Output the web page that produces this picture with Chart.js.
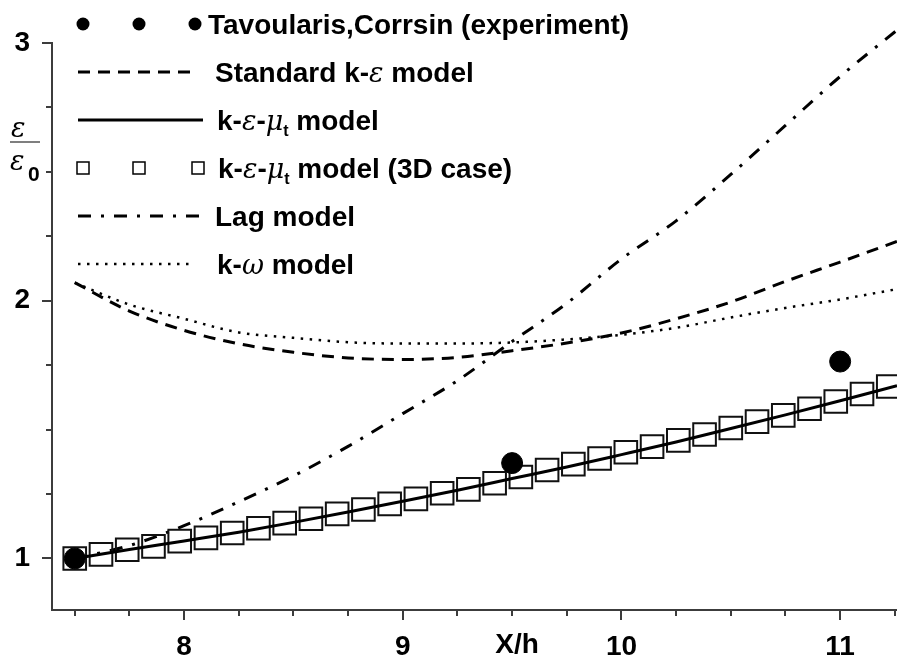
<!DOCTYPE html>
<html>
<head>
<meta charset="utf-8">
<script src="https://cdn.jsdelivr.net/npm/chart.js@4.4.0/dist/chart.umd.min.js"></script>
<style>
  html, body { margin: 0; padding: 0; background: #fff; }
  #wrap { width: 897px; height: 660px; }
</style>
</head>
<body>
<div id="wrap"><canvas id="chart" width="897" height="660"></canvas></div>
<script>
// --- data ---
const curveX = [7.5, 7.75, 8.0, 8.25, 8.5, 8.75, 9.0, 9.25, 9.5, 9.75, 10.0, 10.25, 10.5, 10.75, 11.0, 11.26];
const standardKE = [2.07, 1.96, 1.885, 1.833, 1.80, 1.778, 1.772, 1.78, 1.806, 1.836, 1.875, 1.93, 1.995, 2.075, 2.15, 2.23];
const kEpsMut = [1.0, 1.035, 1.068, 1.102, 1.14, 1.18, 1.222, 1.265, 1.31, 1.355, 1.403, 1.452, 1.504, 1.557, 1.612, 1.67];
const lagModel = [1.0, 1.05, 1.127, 1.22, 1.32, 1.435, 1.562, 1.69, 1.842, 1.99, 2.162, 2.31, 2.49, 2.68, 2.87, 3.05];
const kOmega = [2.07, 1.985, 1.93, 1.877, 1.856, 1.839, 1.834, 1.834, 1.838, 1.85, 1.868, 1.895, 1.935, 1.972, 2.005, 2.045];

const expX = [7.5, 9.5, 11.0];
const expY = [1.0, 1.37, 1.764];

const case3dX = [7.50, 7.62, 7.74, 7.86, 7.98, 8.10, 8.22, 8.34, 8.46, 8.58, 8.70, 8.82, 8.94, 9.06, 9.18, 9.30,
                 9.42, 9.54, 9.66, 9.78, 9.90, 10.02, 10.14, 10.26, 10.38, 10.50, 10.62, 10.74, 10.86, 10.98, 11.10, 11.22];
const case3dY = [1.000, 1.016, 1.034, 1.047, 1.067, 1.080, 1.099, 1.117, 1.137, 1.154, 1.173, 1.190, 1.212, 1.231, 1.253, 1.268,
                 1.292, 1.316, 1.343, 1.366, 1.388, 1.412, 1.434, 1.458, 1.481, 1.506, 1.531, 1.555, 1.581, 1.609, 1.638, 1.667];

const xLabelled = [8, 9, 10, 11];
const yLabelled = [1, 2, 3];

const INK = '#000';
const AXIS = '#3c3c3c';
const SANS = "'Liberation Sans', Arial, sans-serif";
const SERIF = "'DejaVu Serif', 'Liberation Serif', serif";

Chart.defaults.font.family = SANS;

const pts = (xs, ys) => xs.map((x, i) => ({ x: x, y: ys[i] }));

// legend text pieces: b = bold, g = italic greek, s = subscript
const legendRows = [
  { parts: [['Tavoularis,Corrsin (experiment)', 'b']], textX: 208, sampleEnd: 195 },
  { parts: [['Standard k-', 'b'], ['\u03b5', 'g'], [' model', 'b']], textX: 215, sampleEnd: 193 },
  { parts: [['k-', 'b'], ['\u03b5', 'g'], ['-', 'b'], ['\u03bc', 'g'], ['t', 's'], [' model', 'b']], textX: 217, sampleEnd: 203 },
  { parts: [['k-', 'b'], ['\u03b5', 'g'], ['-', 'b'], ['\u03bc', 'g'], ['t', 's'], [' model (3D case)', 'b']], textX: 218, sampleEnd: 198 },
  { parts: [['Lag model', 'b']], textX: 215, sampleEnd: 203 },
  { parts: [['k-', 'b'], ['\u03c9', 'g'], [' model', 'b']], textX: 217, sampleEnd: 193 }
];

function partFont(kind) {
  if (kind === 'g') return 'italic 27px ' + SERIF;
  if (kind === 's') return 'bold 16px ' + SANS;
  return 'bold 28px ' + SANS;
}

function drawRich(ctx, parts, x, baseline) {
  let cx = x;
  parts.forEach(([t, kind]) => {
    ctx.font = partFont(kind);
    const dy = kind === 's' ? 6 : 0;
    ctx.fillText(t, cx, baseline + dy);
    cx += ctx.measureText(t).width;
  });
}

const decorations = {
  id: 'decorations',
  afterDraw(chart) {
    const ctx = chart.ctx;
    const xs = chart.scales.x;
    const ys = chart.scales.y;
    ctx.save();

    // tick marks, longer on labelled values
    ctx.strokeStyle = AXIS;
    ctx.lineWidth = 2;
    xs.ticks.forEach(t => {
      const px = Math.round(xs.getPixelForValue(t.value));
      const len = xLabelled.includes(t.value) ? 10 : 6;
      ctx.beginPath();
      ctx.moveTo(px, xs.top);
      ctx.lineTo(px, xs.top + len);
      ctx.stroke();
    });
    ys.ticks.forEach(t => {
      const py = Math.round(ys.getPixelForValue(t.value));
      const len = yLabelled.includes(t.value) ? 10 : 6;
      ctx.beginPath();
      ctx.moveTo(ys.right, py);
      ctx.lineTo(ys.right - len, py);
      ctx.stroke();
    });

    // axis titles
    ctx.fillStyle = INK;
    ctx.textAlign = 'center';
    ctx.textBaseline = 'alphabetic';
    ctx.font = 'bold 28px ' + SANS;
    ctx.fillText('X/h', 517, 653);

    ctx.textAlign = 'left';
    ctx.font = 'italic 27px ' + SERIF;
    ctx.fillText('\u03b5', 11, 137);
    ctx.fillText('\u03b5', 10, 170);
    ctx.font = 'bold 21px ' + SANS;
    ctx.fillText('0', 28, 181);
    ctx.strokeStyle = '#555';
    ctx.lineWidth = 1.5;
    ctx.beginPath();
    ctx.moveTo(10, 142);
    ctx.lineTo(40, 142);
    ctx.stroke();

    // legend
    const sx = 78;
    legendRows.forEach((row, i) => {
      const ds = chart.data.datasets[i];
      const cy = 24 + i * 48;
      ctx.strokeStyle = INK;
      ctx.fillStyle = INK;
      if (ds.showLine === false) {
        const centers = [sx + 5, sx + 61, row.sampleEnd];
        centers.forEach(c => {
          ctx.beginPath();
          if (ds.pointStyle === 'rect') {
            ctx.lineWidth = 1.5;
            ctx.setLineDash([]);
            ctx.strokeRect(c - 6, cy - 6, 12, 12);
          } else {
            ctx.arc(c, cy, 6.5, 0, Math.PI * 2);
            ctx.fill();
          }
        });
      } else {
        ctx.lineWidth = ds.borderWidth;
        ctx.setLineDash(ds.borderDash || []);
        ctx.beginPath();
        ctx.moveTo(sx, cy);
        ctx.lineTo(row.sampleEnd, cy);
        ctx.stroke();
        ctx.setLineDash([]);
      }
      ctx.fillStyle = INK;
      ctx.textAlign = 'left';
      drawRich(ctx, row.parts, row.textX, cy + 10);
    });

    ctx.restore();
  }
};

const lineBase = {
  borderColor: INK,
  backgroundColor: INK,
  borderWidth: 3,
  pointRadius: 0,
  fill: false,
  cubicInterpolationMode: 'monotone'
};

new Chart(document.getElementById('chart'), {
  type: 'line',
  data: {
    datasets: [
      {
        label: 'Tavoularis,Corrsin (experiment)',
        data: pts(expX, expY),
        showLine: false,
        pointStyle: 'circle',
        pointRadius: 10.5,
        pointBackgroundColor: INK,
        pointBorderColor: INK,
        borderColor: INK
      },
      Object.assign({}, lineBase, {
        label: 'Standard k-\u03b5 model',
        data: pts(curveX, standardKE),
        borderDash: [12, 8]
      }),
      Object.assign({}, lineBase, {
        label: 'k-\u03b5-\u03bct model',
        data: pts(curveX, kEpsMut)
      }),
      {
        label: 'k-\u03b5-\u03bct model (3D case)',
        data: pts(case3dX, case3dY),
        showLine: false,
        pointStyle: 'rect',
        pointRadius: 16,
        pointBorderWidth: 2,
        pointBorderColor: '#111',
        pointBackgroundColor: 'rgba(0,0,0,0)',
        borderColor: '#111'
      },
      Object.assign({}, lineBase, {
        label: 'Lag model',
        data: pts(curveX, lagModel),
        borderDash: [13, 10, 3, 10],
        clip: false
      }),
      Object.assign({}, lineBase, {
        label: 'k-\u03c9 model',
        data: pts(curveX, kOmega),
        borderWidth: 2.5,
        borderDash: [2.5, 6.5]
      })
    ]
  },
  options: {
    responsive: false,
    animation: false,
    devicePixelRatio: 1,
    layout: { autoPadding: false, padding: { top: 43, right: 0, bottom: 0, left: 0 } },
    plugins: { legend: { display: false }, tooltip: { enabled: false } },
    scales: {
      x: {
        type: 'linear',
        min: 7.396,
        max: 11.26,
        afterFit: s => { s.height = 50; s.paddingRight = 0; },
        // invisible library ticks only push the labels down; visible ticks come from the plugin
        grid: { drawOnChartArea: false, drawTicks: true, tickLength: 20, tickColor: 'rgba(0,0,0,0)' },
        border: { display: true, color: AXIS, width: 2 },
        ticks: {
          stepSize: 0.25,
          includeBounds: false,
          autoSkip: false,
          maxRotation: 0,
          padding: 0,
          color: INK,
          font: { size: 28, weight: 'bold' },
          callback: v => xLabelled.includes(v) ? String(v) : ''
        }
      },
      y: {
        min: 0.8,
        max: 3,
        afterFit: s => { s.width = 52; },
        grid: { drawOnChartArea: false, drawTicks: false },
        border: { display: true, color: AXIS, width: 2 },
        ticks: {
          stepSize: 0.25,
          includeBounds: false,
          autoSkip: false,
          padding: 22,
          color: INK,
          font: { size: 28, weight: 'bold' },
          callback: v => yLabelled.includes(v) ? String(v) : ''
        }
      }
    }
  },
  plugins: [decorations]
});
</script>
</body>
</html>
